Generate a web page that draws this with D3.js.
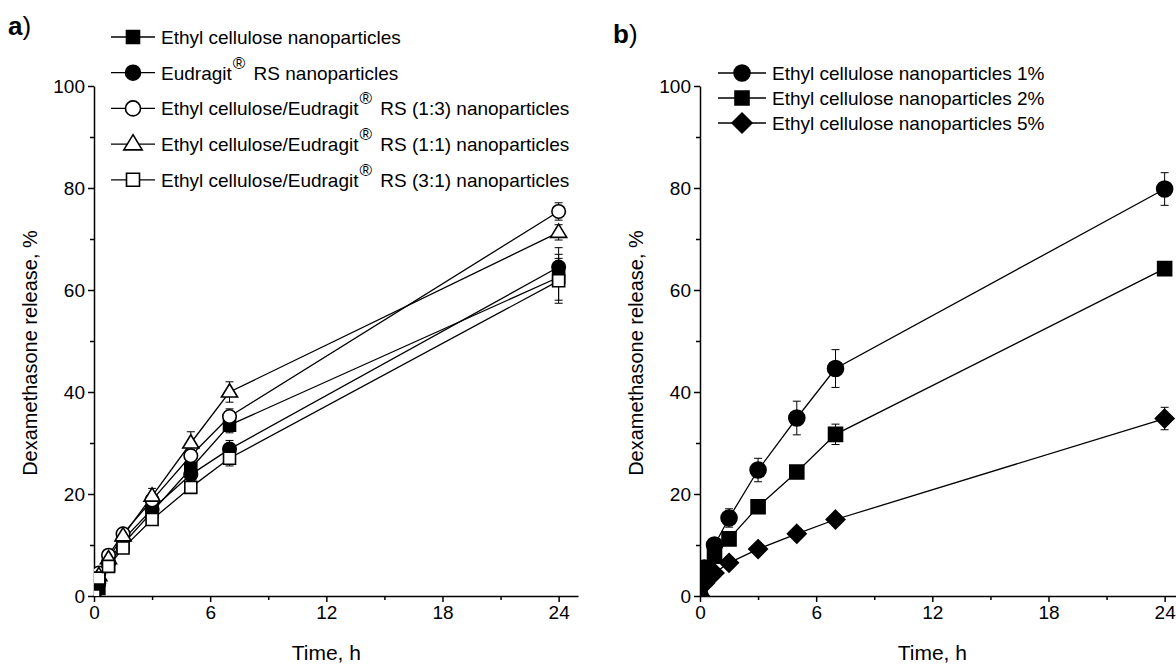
<!DOCTYPE html>
<html>
<head>
<meta charset="utf-8">
<script src="https://cdn.jsdelivr.net/npm/d3@7"></script>
<style>
  body { margin: 0; background: #fff; }
  svg { font-family: Arial, "Liberation Sans", sans-serif; }
</style>
</head>
<body>
<svg width="1176" height="666"></svg>
<script>
// sampling times, h
const times = [0, 0.25, 0.75, 1.5, 3, 5, 7, 24];

// panel a series
const ecVals       = [0, 1.5, 6.0, 10.2, 16.5, 25.0, 33.5, 62.5];
const ecErr        = [0, 0.5, 0.5, 0.8, 1.0, 1.5, 1.5, 4.5];
const eudVals      = [0, 2.5, 6.5, 11.0, 17.0, 23.8, 28.8, 64.5];
const eudErr       = [0, 0.5, 0.5, 0.5, 1.0, 1.5, 1.7, 3.8];
const mix13Vals    = [0, 4.5, 8.0, 12.2, 18.8, 27.5, 35.2, 75.4];
const mix13Err     = [0, 0.8, 0.8, 0.6, 0.8, 1.2, 1.5, 1.7];
const mix11Vals    = [0, 4.0, 7.3, 11.8, 19.6, 30.0, 40.0, 71.3];
const mix11Err     = [0, 0.6, 0.6, 0.8, 1.5, 2.2, 2.0, 1.5];
const mix31Vals    = [0, 3.5, 5.8, 9.4, 15.0, 21.3, 27.0, 61.8];
const mix31Err     = [0, 0.8, 0.8, 0.6, 0.8, 1.0, 1.5, 4.4];

// panel b series
const ec1Vals = [0, 5.5, 10.0, 15.3, 24.7, 34.9, 44.6, 79.8];
const ec1Err  = [0, 0.8, 1.0, 1.8, 2.3, 3.3, 3.7, 3.2];
const ec2Vals = [0, 4.2, 7.8, 11.2, 17.5, 24.3, 31.7, 64.2];
const ec2Err  = [0, 0.5, 0.8, 1.0, 0.8, 1.0, 2.0, 1.0];
const ec5Vals = [0, 2.5, 4.5, 6.5, 9.2, 12.2, 15.0, 34.8];
const ec5Err  = [0, 0.3, 0.5, 0.5, 0.5, 0.8, 0.8, 2.2];

const xTicks = [0, 6, 12, 18, 24];
const xMinor = [3, 9, 15, 21];
const yTicks = [0, 20, 40, 60, 80, 100];
const yMinor = [10, 30, 50, 70, 90];

const seriesA = [
  { name: "Ethyl cellulose nanoparticles", sym: "square", fill: "#000", vals: ecVals, err: ecErr },
  { name: "Eudragit", sup: true, tail: " RS nanoparticles", sym: "circle", fill: "#000", vals: eudVals, err: eudErr },
  { name: "Ethyl cellulose/Eudragit", sup: true, tail: " RS (1:3) nanoparticles", sym: "circle", fill: "#fff", vals: mix13Vals, err: mix13Err },
  { name: "Ethyl cellulose/Eudragit", sup: true, tail: " RS (1:1) nanoparticles", sym: "triangle", fill: "#fff", vals: mix11Vals, err: mix11Err },
  { name: "Ethyl cellulose/Eudragit", sup: true, tail: " RS (3:1) nanoparticles", sym: "square", fill: "#fff", vals: mix31Vals, err: mix31Err }
];
const seriesB = [
  { name: "Ethyl cellulose nanoparticles 1%", sym: "circle", fill: "#000", vals: ec1Vals, err: ec1Err },
  { name: "Ethyl cellulose nanoparticles 2%", sym: "square", fill: "#000", vals: ec2Vals, err: ec2Err },
  { name: "Ethyl cellulose nanoparticles 5%", sym: "diamond", fill: "#000", vals: ec5Vals, err: ec5Err }
];

const svg = d3.select("svg");

function markerPath(sym, s) {
  // s = nominal size in px
  if (sym === "circle") return d3.symbol(d3.symbolCircle, Math.PI * (s / 2) * (s / 2))();
  if (sym === "square") return d3.symbol(d3.symbolSquare, s * s)();
  if (sym === "triangle") {
    const h = s * 0.95, w = s * 1.15;
    return `M0,${-h * 0.62}L${w / 2},${h * 0.38}L${-w / 2},${h * 0.38}Z`;
  }
  if (sym === "diamond") {
    const r = s * 0.62;
    return `M0,${-r}L${r},0L0,${r}L${-r},0Z`;
  }
}

function drawPanel(opts) {
  const { x0, series, label, msize, legend, id } = opts;
  const x = d3.scaleLinear().domain([0, 25]).range([x0, x0 + 484]);
  const y = d3.scaleLinear().domain([0, 100]).range([596, 86]);
  const g = svg.append("g");

  g.append("defs").append("clipPath").attr("id", id)
    .append("rect").attr("x", x0).attr("y", 0).attr("width", 1176).attr("height", 596);

  // axes
  g.append("g").attr("transform", "translate(0,596)")
    .call(d3.axisBottom(x).tickValues(xTicks).tickSize(6).tickSizeOuter(0).tickPadding(4));
  g.append("g").attr("transform", "translate(0,596)")
    .call(d3.axisBottom(x).tickValues(xMinor).tickSize(4).tickSizeOuter(0).tickFormat(""))
    .select(".domain").remove();
  g.append("g").attr("transform", `translate(${x0},0)`)
    .call(d3.axisLeft(y).tickValues(yTicks).tickSize(6).tickSizeOuter(0).tickPadding(3));
  g.append("g").attr("transform", `translate(${x0},0)`)
    .call(d3.axisLeft(y).tickValues(yMinor).tickSize(4).tickSizeOuter(0).tickFormat(""))
    .select(".domain").remove();
  g.selectAll(".domain, .tick line").attr("stroke", "#000").attr("stroke-width", 1.5);
  g.selectAll(".tick text").attr("font-size", 19).attr("fill", "#000")
    .attr("font-family", "Arial, 'Liberation Sans', sans-serif");

  // axis titles
  g.append("text").attr("x", x(12)).attr("y", 660).attr("text-anchor", "middle")
    .attr("font-size", 21).text("Time, h");
  g.append("text").attr("transform", `translate(${x0 - 57},${353}) rotate(-90)`)
    .attr("text-anchor", "middle").attr("font-size", 20).text("Dexamethasone release, %");

  // panel label
  g.append("text").attr("x", label.x).attr("y", label.y).attr("font-size", 26)
    .attr("font-weight", "bold").text(label.t)
    .append("tspan").attr("font-weight", "normal").text(")");

  const plot = g.append("g").attr("clip-path", `url(#${id})`);
  const line = d3.line().x(d => x(d[0])).y(d => y(d[1]));

  series.forEach(s => {
    const pts = times.map((t, i) => [t, s.vals[i], s.err[i]]);
    plot.append("path").attr("d", line(pts)).attr("fill", "none")
      .attr("stroke", "#000").attr("stroke-width", 1.3);
  });
  series.forEach(s => {
    const pts = times.map((t, i) => [t, s.vals[i], s.err[i]]);
    const eb = plot.append("g").attr("stroke", "#000").attr("stroke-width", 1);
    pts.filter(p => p[2] > 0).forEach(p => {
      const cx = x(p[0]);
      eb.append("line").attr("x1", cx).attr("x2", cx).attr("y1", y(p[1] + p[2])).attr("y2", y(p[1] - p[2]));
      eb.append("line").attr("x1", cx - 4).attr("x2", cx + 4).attr("y1", y(p[1] + p[2])).attr("y2", y(p[1] + p[2]));
      eb.append("line").attr("x1", cx - 4).attr("x2", cx + 4).attr("y1", y(p[1] - p[2])).attr("y2", y(p[1] - p[2]));
    });
  });
  series.forEach(s => {
    const pts = times.map((t, i) => [t, s.vals[i]]);
    plot.selectAll(null).data(pts).enter().append("path")
      .attr("d", markerPath(s.sym, msize[s.sym]))
      .attr("transform", d => `translate(${x(d[0])},${y(d[1])})`)
      .attr("fill", s.fill).attr("stroke", "#000").attr("stroke-width", 1.6);
  });

  // legend
  const lg = g.append("g");
  series.forEach((s, i) => {
    const ly = legend.y + i * legend.dy;
    lg.append("line").attr("x1", legend.x).attr("x2", legend.x + legend.len).attr("y1", ly).attr("y2", ly)
      .attr("stroke", "#000").attr("stroke-width", 1.3);
    lg.append("path").attr("d", markerPath(s.sym, legend.msize[s.sym]))
      .attr("transform", `translate(${legend.x + legend.len / 2},${ly})`)
      .attr("fill", s.fill).attr("stroke", "#000").attr("stroke-width", 1.6);
    const tx = lg.append("text").attr("x", legend.x + legend.len + 6).attr("y", ly + 7).attr("font-size", 19);
    tx.append("tspan").text(s.name);
    if (s.sup) {
      tx.append("tspan").attr("dy", -11).attr("dx", 1).attr("font-size", 17).text("®");
      tx.append("tspan").attr("dy", 11).attr("dx", 3).text(s.tail);
    }
  });
}

drawPanel({
  id: "clipA", x0: 94, series: seriesA,
  label: { x: 8, y: 35, t: "a" },
  msize: { square: 12, circle: 13.5, triangle: 14 },
  legend: { x: 111, y: 37, dy: 35.7, len: 44, msize: { square: 13, circle: 15, triangle: 16 } }
});
drawPanel({
  id: "clipB", x0: 700, series: seriesB,
  label: { x: 613, y: 43, t: "b" },
  msize: { square: 14, circle: 16, diamond: 15 },
  legend: { x: 718, y: 73, dy: 25, len: 48, msize: { square: 14, circle: 16, diamond: 16 } }
});
</script>
</body>
</html>
